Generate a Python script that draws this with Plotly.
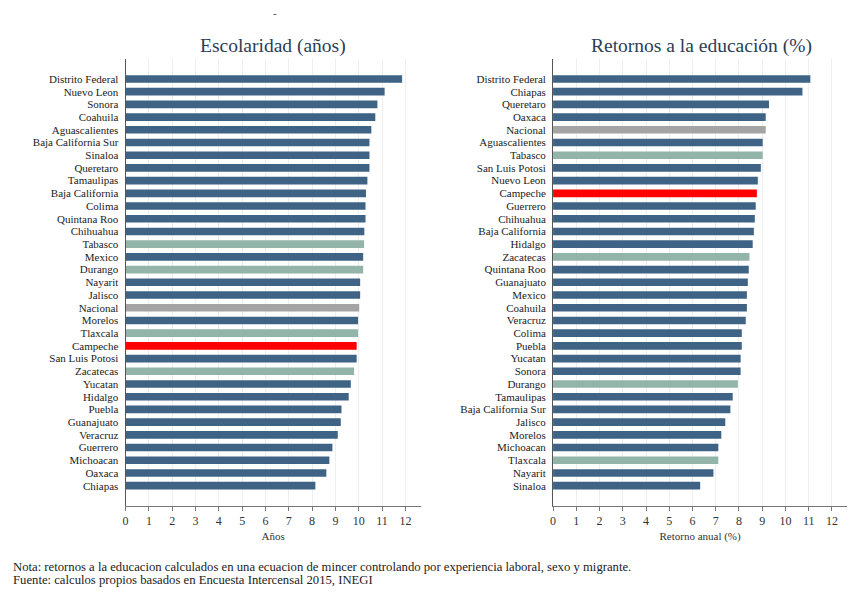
import plotly.graph_objects as go

# Escolaridad promedio (años) por entidad, ordenada de mayor a menor
esc_estados = ["Distrito Federal", "Nuevo Leon", "Sonora", "Coahuila", "Aguascalientes",
               "Baja California Sur", "Sinaloa", "Queretaro", "Tamaulipas", "Baja California",
               "Colima", "Quintana Roo", "Chihuahua", "Tabasco", "Mexico", "Durango",
               "Nayarit", "Jalisco", "Nacional", "Morelos", "Tlaxcala", "Campeche",
               "San Luis Potosi", "Zacatecas", "Yucatan", "Hidalgo", "Puebla", "Guanajuato",
               "Veracruz", "Guerrero", "Michoacan", "Oaxaca", "Chiapas"]
esc_valores = [11.86, 11.11, 10.80, 10.71, 10.54, 10.46, 10.46, 10.46, 10.37, 10.31,
               10.29, 10.29, 10.24, 10.23, 10.19, 10.19, 10.06, 10.06, 10.02, 9.97,
               9.97, 9.91, 9.91, 9.80, 9.66, 9.57, 9.26, 9.23, 9.10, 8.87,
               8.74, 8.61, 8.14]

# Retorno anual a la educación (%) por entidad
ret_estados = ["Distrito Federal", "Chiapas", "Queretaro", "Oaxaca", "Nacional",
               "Aguascalientes", "Tabasco", "San Luis Potosi", "Nuevo Leon", "Campeche",
               "Guerrero", "Chihuahua", "Baja California", "Hidalgo", "Zacatecas",
               "Quintana Roo", "Guanajuato", "Mexico", "Coahuila", "Veracruz", "Colima",
               "Puebla", "Yucatan", "Sonora", "Durango", "Tamaulipas", "Baja California Sur",
               "Jalisco", "Morelos", "Michoacan", "Tlaxcala", "Nayarit", "Sinaloa"]
ret_valores = [11.07, 10.73, 9.29, 9.15, 9.15, 9.02, 9.02, 8.94, 8.81, 8.77,
               8.72, 8.68, 8.64, 8.59, 8.45, 8.42, 8.38, 8.34, 8.34, 8.29, 8.12,
               8.12, 8.07, 8.07, 7.95, 7.73, 7.63, 7.41, 7.24, 7.11, 7.11, 6.90, 6.33]

x_ticks = list(range(0, 13))

# Entidades destacadas
resaltadas = ["Tabasco", "Durango", "Tlaxcala", "Zacatecas"]
C_BASE = "#3e6384"
C_RESALT = "#93b4a9"
C_NAC = "#a4a4a4"
C_CAMP = "#ff0000"


def color_de(estado):
    if estado == "Campeche":
        return C_CAMP
    if estado == "Nacional":
        return C_NAC
    if estado in resaltadas:
        return C_RESALT
    return C_BASE


SERIF = "Liberation Serif"
fig = go.Figure()

fig.add_trace(go.Bar(
    y=esc_estados, x=esc_valores, orientation="h", width=0.6,
    marker=dict(color=[color_de(e) for e in esc_estados], line=dict(width=0)),
    xaxis="x", yaxis="y", showlegend=False, hoverinfo="x+y"))

fig.add_trace(go.Bar(
    y=ret_estados, x=ret_valores, orientation="h", width=0.6,
    marker=dict(color=[color_de(e) for e in ret_estados], line=dict(width=0)),
    xaxis="x2", yaxis="y2", showlegend=False, hoverinfo="x+y"))

W, H = 863, 593
y_dom = [(H - 506) / H, (H - 59) / H]
n = len(esc_estados)
y_range = [n - 1 + 1.6, -1.57]

xcommon = dict(range=[0, 12.65], tickvals=x_ticks, showgrid=True,
               gridcolor="#eeeeee", gridwidth=1, zeroline=False,
               showline=True, linecolor="#777777", linewidth=1,
               ticks="outside", ticklen=4, tickcolor="#777777",
               tickfont=dict(family=SERIF, size=12, color="#333333"),
               title_font=dict(family=SERIF, size=11, color="#333333"),
               title_standoff=4)
ycommon = dict(type="category", range=y_range, showgrid=False, zeroline=False,
               showline=True, linecolor="#555555", linewidth=1, ticks="",
               tickmode="array", ticklabelstandoff=4,
               tickfont=dict(family=SERIF, size=11, color="#222222"))

fig.update_layout(
    width=W, height=H,
    margin=dict(l=0, r=0, t=0, b=0),
    paper_bgcolor="white", plot_bgcolor="white",
    bargap=0.4,
    xaxis=dict(domain=[123 / W, 419 / W], anchor="y", title_text="Años", **xcommon),
    yaxis=dict(domain=y_dom, anchor="x", categoryorder="array",
               categoryarray=esc_estados, tickvals=esc_estados, **ycommon),
    xaxis2=dict(domain=[552 / W, 847 / W], anchor="y2",
                title_text="Retorno anual (%)", **xcommon),
    yaxis2=dict(domain=y_dom, anchor="x2", categoryorder="array",
                categoryarray=ret_estados, tickvals=ret_estados, **ycommon),
)

anns = [
    dict(text="Escolaridad (años)", x=271 / W, y=(H - 46) / H),
    dict(text="Retornos a la educación (%)", x=701 / W, y=(H - 46) / H),
]
for a in anns:
    fig.add_annotation(text=a["text"], x=a["x"], y=a["y"], xref="paper", yref="paper",
                       xanchor="center", yanchor="middle", showarrow=False,
                       font=dict(family=SERIF, size=19.5, color="#2b3d57"))

# small dash mark above the left panel
fig.add_annotation(text="-", x=273 / W, y=(H - 13) / H, xref="paper", yref="paper",
                   xanchor="center", yanchor="middle", showarrow=False,
                   font=dict(family=SERIF, size=11, color="#333333"))

fig.add_annotation(
    text="Nota: retornos a la educacion calculados en una ecuacion de mincer controlando por experiencia laboral, sexo y migrante.",
    x=8 / W, y=(H - 567) / H, xref="paper", yref="paper", xanchor="left", yanchor="middle",
    showarrow=False, font=dict(family=SERIF, size=12.7, color="#222222"))
fig.add_annotation(
    text="Fuente: calculos propios basados en Encuesta Intercensal 2015, INEGI",
    x=8 / W, y=(H - 580) / H, xref="paper", yref="paper", xanchor="left", yanchor="middle",
    showarrow=False, font=dict(family=SERIF, size=12.7, color="#222222"))

fig.write_html("out.html")
